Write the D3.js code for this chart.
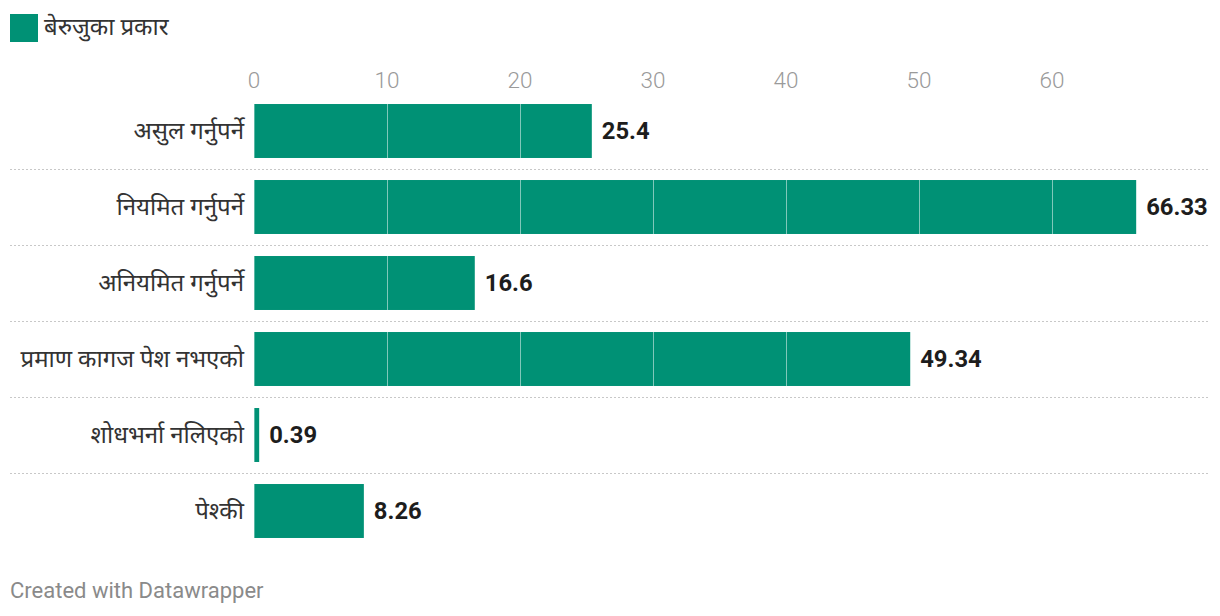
<!DOCTYPE html>
<html><head><meta charset="utf-8">
<script src="https://cdn.jsdelivr.net/npm/d3@7"></script>
<style>
body{margin:0;background:#fff;}
text{font-family:Roboto,"Noto Sans","Noto Sans Devanagari",sans-serif;}
</style></head>
<body>
<svg id="c" width="1220" height="616"></svg>
<script>
const categories = ["असुल गर्नुपर्ने","नियमित गर्नुपर्ने","अनियमित गर्नुपर्ने","प्रमाण कागज पेश नभएको","शोधभर्ना नलिएको","पेश्की"];
const values = [25.4, 66.33, 16.6, 49.34, 0.39, 8.26];
const valueLabels = ["25.4","66.33","16.6","49.34","0.39","8.26"];
const ticks = [0,10,20,30,40,50,60];
const legendLabel = "बेरुजुका प्रकार";
const footer = "Created with Datawrapper";

const svg = d3.select("#c");
const color = "#009175";
const x = d3.scaleLinear().domain([0,60]).range([254,1052]);
const y = d3.scaleBand().domain(categories).range([93,549]).paddingInner(0.29).paddingOuter(0.145);

// legend
svg.append("rect").attr("x",10).attr("y",14).attr("width",28).attr("height",28).attr("fill",color);
svg.append("text").attr("x",44).attr("y",35).attr("font-size",24).attr("fill","#333").text(legendLabel);

// ticks
svg.append("g").selectAll("text").data(ticks).join("text")
  .attr("x",d=>x(d)).attr("y",88).attr("text-anchor","middle")
  .attr("font-size",22.5).attr("font-weight",300).attr("fill","#9a9a9a").text(d=>d);

// separators
const step = y.step();
svg.append("g").selectAll("line").data(categories.slice(0,-1)).join("line")
  .attr("x1",10).attr("x2",1208)
  .attr("y1",d=>y(d)+y.bandwidth()+ (step-y.bandwidth())/2 + 0.5)
  .attr("y2",d=>y(d)+y.bandwidth()+ (step-y.bandwidth())/2 + 0.5)
  .attr("stroke","#c8c8c8").attr("stroke-width",1).attr("stroke-dasharray","2,2");

// bars
svg.append("g").selectAll("rect").data(values).join("rect")
  .attr("x",x(0)).attr("y",(d,i)=>y(categories[i]))
  .attr("width",d=>x(d)-x(0)).attr("height",y.bandwidth()).attr("fill",color);

// gridlines over bars
values.forEach((v,i)=>{
  svg.append("g").selectAll("line").data(ticks.filter(t=>t>0 && t<v)).join("line")
    .attr("x1",t=>Math.round(x(t))+0.5).attr("x2",t=>Math.round(x(t))+0.5)
    .attr("y1",y(categories[i])).attr("y2",y(categories[i])+y.bandwidth())
    .attr("stroke","#ffffff").attr("stroke-opacity",0.5).attr("stroke-width",1);
});
svg.append("g").selectAll("line").data(values).join("line")
  .attr("x1",x(0)+0.5).attr("x2",x(0)+0.5)
  .attr("y1",(d,i)=>y(categories[i])).attr("y2",(d,i)=>y(categories[i])+y.bandwidth())
  .attr("stroke","#ffffff").attr("stroke-opacity",0.35);

// category labels
svg.append("g").selectAll("text").data(categories).join("text")
  .attr("x",244).attr("y",d=>y(d)+y.bandwidth()/2).attr("dy","0.35em")
  .attr("text-anchor","end").attr("font-size",24).attr("fill","#333").text(d=>d);

// value labels
svg.append("g").selectAll("text").data(values).join("text")
  .attr("x",d=>x(d)+10).attr("y",(d,i)=>y(categories[i])+y.bandwidth()/2).attr("dy","0.35em")
  .attr("font-size",23.8).attr("font-weight",700).attr("fill","#1d1d1d").text((d,i)=>valueLabels[i]);

// footer
svg.append("text").attr("x",10).attr("y",598).attr("font-size",22).attr("fill","#8a8a8a").text(footer);
</script>
</body></html>
